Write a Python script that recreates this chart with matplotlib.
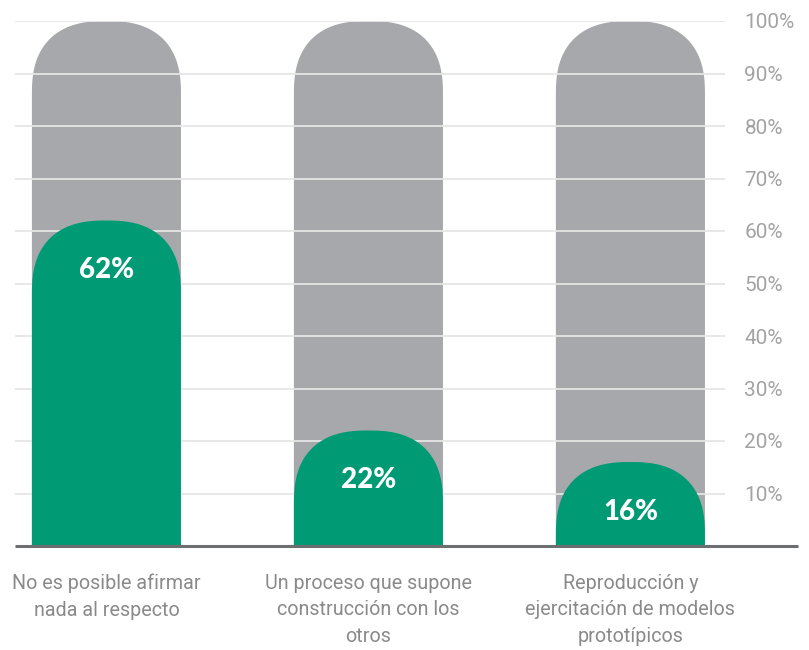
import numpy as np
import matplotlib
matplotlib.use('Agg')
import matplotlib.pyplot as plt
from matplotlib.patches import Polygon

categories = ['No es posible afirmar\nnada al respecto',
              'Un proceso que supone\nconstrucción con los\notros',
              'Reproducción y\nejercitación de modelos\nprototípicos']
values = [62, 22, 16]
total = [100, 100, 100]
yticks = [10, 20, 30, 40, 50, 60, 70, 80, 90, 100]

GREY = '#a7a8ab'
GREEN = '#009b74'
GRID = '#e6e6e6'


def capsule(x, width, height, cap=14.0, n=2.5, steps=80):
    # bar outline with a superellipse cap on top
    a = width / 2.0
    b = min(cap, height)
    base = height - b
    t = np.linspace(0, np.pi, steps)
    cx = a * np.sign(np.cos(t)) * np.abs(np.cos(t)) ** (2.0 / n)
    cy = b * np.abs(np.sin(t)) ** (2.0 / n)
    pts = [(x + a, 0)] + [(x + px, base + py) for px, py in zip(cx, cy)] + [(x - a, 0)]
    return pts


fig = plt.figure(figsize=(8.09, 6.5), dpi=100)
ax = fig.add_axes([15 / 809, 104 / 650, 710 / 809, 525 / 650])
ax.set_xlim(-0.349, 2.361)
ax.set_ylim(0, 100)

width = 0.569
xs = np.arange(len(categories))

for x, t in zip(xs, total):
    ax.add_patch(Polygon(capsule(x, width, t), closed=True, facecolor=GREY,
                         edgecolor='none', zorder=1))

for y in yticks:
    ax.axhline(y, color=GRID, lw=1.3, zorder=2)

for x, v in zip(xs, values):
    ax.add_patch(Polygon(capsule(x, width, v), closed=True, facecolor=GREEN,
                         edgecolor='none', zorder=3))
    ax.text(x, v - 9.5, f'{v}%', ha='center', va='center', color='white',
            fontsize=20, fontweight='black', family='Lato', zorder=4)

# baseline runs under the tick labels too
ax.plot([0, 783 / 710], [0, 0], transform=ax.transAxes, color='#6d6e70',
        lw=2.2, clip_on=False, zorder=5, solid_capstyle='butt')

ax.yaxis.tick_right()
ax.set_yticks(yticks)
ax.set_yticklabels([f'{y}%' for y in yticks])
ax.tick_params(axis='y', length=0, pad=14, labelsize=15, labelcolor='#a3a3a3')
for lbl in ax.get_yticklabels():
    lbl.set_family('Roboto')

ax.set_xticks(xs)
ax.set_xticklabels(categories, linespacing=1.5)
ax.tick_params(axis='x', length=0, pad=20, labelsize=14.2, labelcolor='#8a8a8a')
for lbl in ax.get_xticklabels():
    lbl.set_family('Roboto')

for s in ax.spines.values():
    s.set_visible(False)

fig.savefig('out.png', dpi=100)
